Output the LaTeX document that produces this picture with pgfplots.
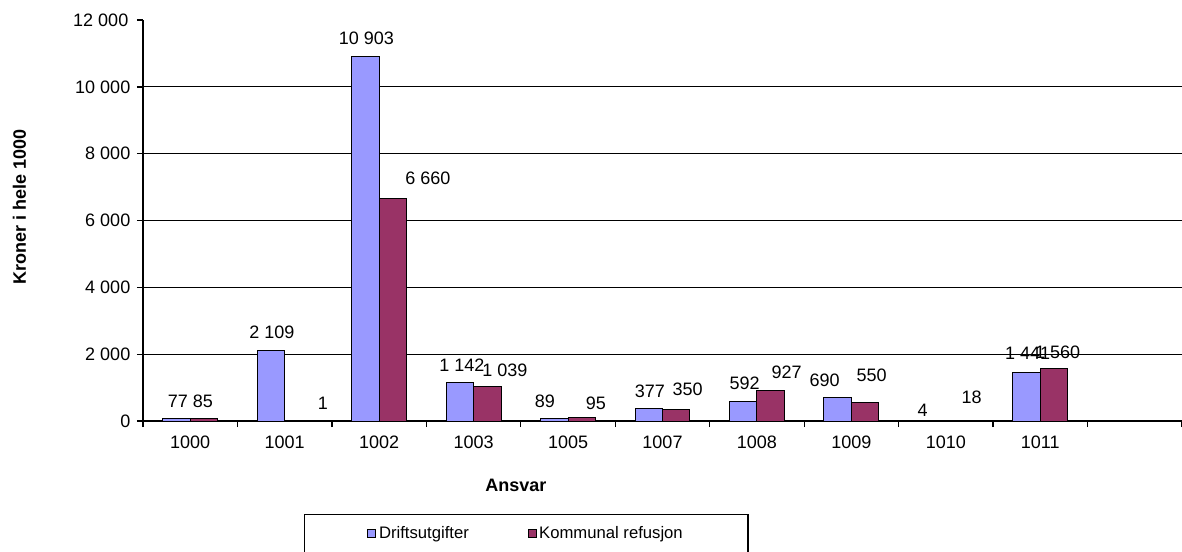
\documentclass[border=0pt]{standalone}
\usepackage{fontspec}
\setmainfont{Liberation Sans}
\usepackage{pgfplots}
\usepackage{pgfplotstable}
\pgfplotsset{compat=1.18}
\definecolor{cblue}{HTML}{9999FF}
\definecolor{cred}{HTML}{993366}

\pgfplotstableread{
x y dx dy
0 77 1.5 17.4
1 2109 1 18.5
2 10903 1 18.7
3 1142 2 17.8
4 89 -9.5 17
5 377 1 17.4
6 592 1.5 18.2
7 690 -13 17.9
8 4 -9.5 10.9
9 1441 1 19.8
}\drift
\pgfplotstableread{
x y dx dy
0 85 -1 17.2
1 1 24.5 18
2 6660 35 20.4
3 1039 17.5 16.3
4 95 14 14.8
5 350 11.5 20.3
6 927 16 18
7 550 6.5 27.6
8 18 12 23.4
9 1560 3.5 16.9
}\refusjon

\begin{document}
\begin{tikzpicture}
\useasboundingbox (-107.25pt,-97.5pt) rectangle (779.25pt,315.75pt);
\clip (-107.25pt,-97.5pt) rectangle (779.25pt,315.75pt);
\begin{axis}[
  width=779.25pt, height=300.75pt, scale only axis,
  xmin=-0.5, xmax=10.5, ymin=0, ymax=12000,
  axis lines*=left,
  axis line style={-, line width=1.1pt, black},
  ytick={0,2000,4000,6000,8000,10000},
  extra y ticks={12000},
  extra y tick style={grid=none, yticklabel style={font=\fontsize{13.5}{16}\selectfont, xshift=-1.5pt}},
  scaled y ticks=false,
  ymajorgrids,
  major grid style={black, line width=0.9pt},
  x tick label as interval,
  xtick={-0.5,0.5,1.5,2.5,3.5,4.5,5.5,6.5,7.5,8.5,9.5,10.5},
  xticklabels={1000,1001,1002,1003,1005,1007,1008,1009,1010,1011,{}},
  tick align=outside,
  major tick length=4.5pt,
  tick style={black, line width=1pt},
  /pgf/number format/1000 sep={\ },
  /pgf/number format/assume math mode=true,
  tick label style={font=\fontsize{13.5}{16}\selectfont},
  xticklabel style={yshift=-3.5pt},
  yticklabel style={xshift=-1.5pt},
  xlabel={Ansvar},
  xlabel style={at={(axis description cs:0.359,-0.1596)}, anchor=center, font=\fontsize{13.5}{16}\selectfont\bfseries},
  ylabel={Kroner i hele 1000},
  ylabel style={at={(axis description cs:-0.1188,0.534)}, anchor=center, font=\fontsize{13.5}{16}\selectfont\bfseries},
  ybar,
  bar width=20.6pt,
  clip=false,
  legend columns=2,
  legend image code/.code={\draw[#1, draw=black, line width=0.75pt] (0pt,-3pt) rectangle (6pt,3pt);},
  legend style={at={(axis description cs:0.155,0)}, anchor=north west, yshift=-69.75pt,
    draw=black, line width=1pt, inner xsep=47pt, inner ysep=7pt,
    font=\fontsize{12.5}{15}\selectfont,
    /tikz/every even column/.append style={column sep=42pt}},
]
\addplot[fill=cblue, draw=black, line width=0.75pt, bar shift=-10.3pt,
  nodes near coords,
  visualization depends on={\thisrow{dx} \as \dx},
  visualization depends on={\thisrow{dy} \as \dy},
  every node near coord/.append style={anchor=center, font=\fontsize{13.5}{16}\selectfont, xshift={0.75*\dx pt}, yshift={0.75*\dy pt}}]
  table[x=x, y=y] {\drift};
\addlegendentry{Driftsutgifter}
\addplot[fill=cred, draw=black, line width=0.75pt, bar shift=10.3pt,
  nodes near coords,
  visualization depends on={\thisrow{dx} \as \dx},
  visualization depends on={\thisrow{dy} \as \dy},
  every node near coord/.append style={anchor=center, font=\fontsize{13.5}{16}\selectfont, xshift={0.75*\dx pt}, yshift={0.75*\dy pt}}]
  table[x=x, y=y] {\refusjon};
\addlegendentry{Kommunal refusjon}
\end{axis}
\end{tikzpicture}
\end{document}
